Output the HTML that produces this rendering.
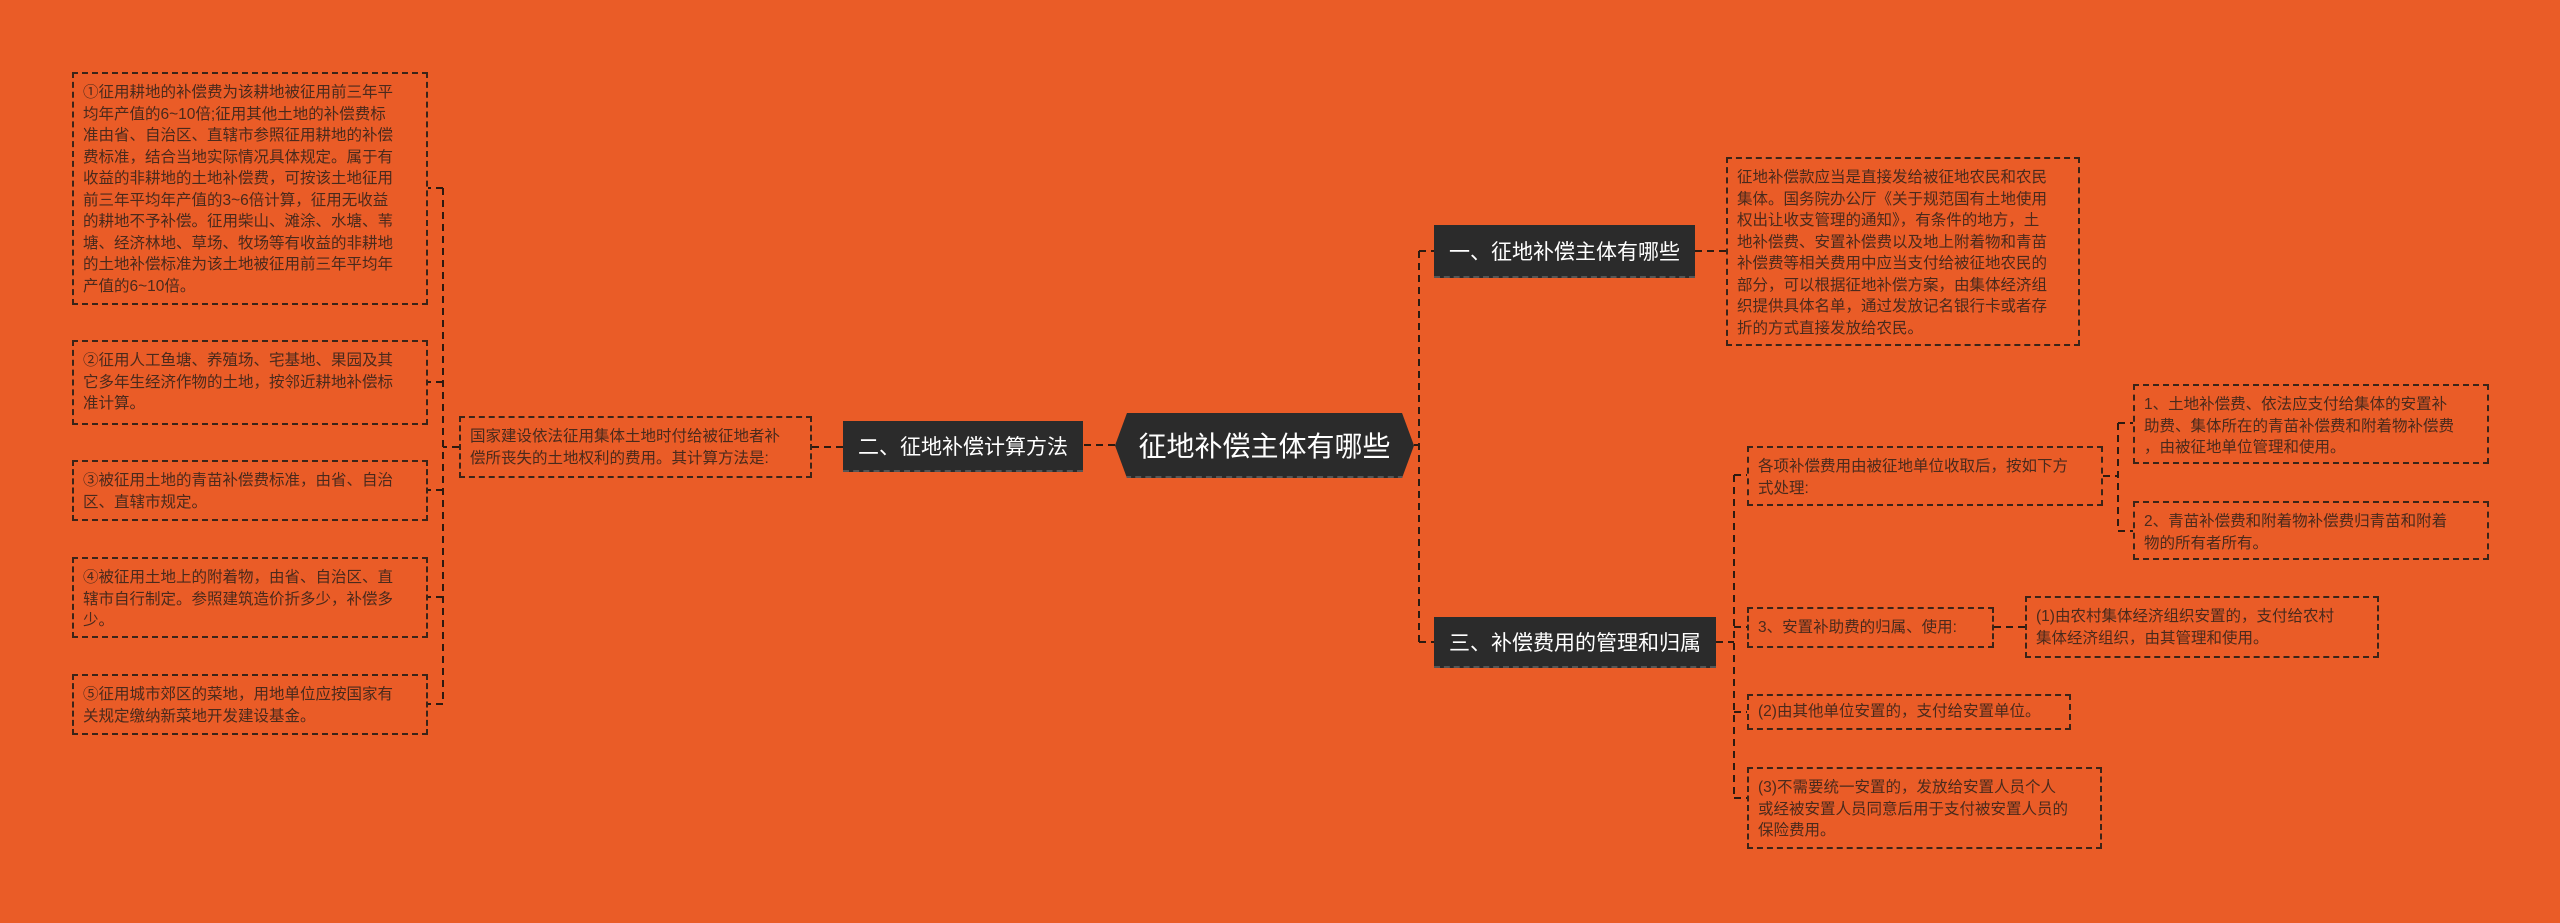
<!DOCTYPE html>
<html><head><meta charset="utf-8"><style>
body{margin:0;width:2560px;height:923px;background:#EA5C27;overflow:hidden;position:relative;font-family:"Liberation Sans","Noto Sans CJK SC",sans-serif}
.b{position:absolute;box-sizing:border-box;border:2px dashed #3b2418;color:#4a2a1c;font-size:15.5px;line-height:21.5px;padding:8px 9px;white-space:nowrap;overflow:hidden}
.n{position:absolute;box-sizing:border-box;background:#2b2b2b;color:#fff;font-size:21px;display:flex;align-items:center;justify-content:center;border-bottom:2px dashed #555;white-space:nowrap}
svg{position:absolute;left:0;top:0}
</style></head><body>
<svg width="2560" height="923"><g stroke="#2d1a10" stroke-width="2" stroke-dasharray="7,5" fill="none">
<path d="M1414 445H1419M1419 251V642M1419 251H1434M1419 642H1434"/>
<path d="M1695 251H1726"/>
<path d="M1716 642H1734M1734 475V798M1734 475H1747M1734 627H1747M1734 712H1747M1734 798H1747"/>
<path d="M2103 476H2118M2118 423V531M2118 423H2133M2118 531H2133"/>
<path d="M1994 627H2025"/>
<path d="M1115 445H1083M843 447H812M459 447H443M443 188V704M443 188H428M443 382H428M443 490H428M443 597H428M443 704H428"/>
</g></svg>
<div class="n" style="left:1115px;top:413px;width:299px;height:65px;font-size:28px;clip-path:polygon(4% 0,96% 0,100% 50%,96% 100%,4% 100%,0 50%)">征地补偿主体有哪些</div>
<div class="n" style="left:1434px;top:225px;width:261px;height:53px">一、征地补偿主体有哪些</div>
<div class="n" style="left:1434px;top:617px;width:282px;height:51px">三、补偿费用的管理和归属</div>
<div class="n" style="left:843px;top:421px;width:240px;height:51px">二、征地补偿计算方法</div>
<div class="b" style="left:459px;top:416px;width:353px;height:62px">国家建设依法征用集体土地时付给被征地者补<br>偿所丧失的土地权利的费用。其计算方法是:</div>
<div class="b" style="left:72px;top:72px;width:356px;height:233px">①征用耕地的补偿费为该耕地被征用前三年平<br>均年产值的6~10倍;征用其他土地的补偿费标<br>准由省、自治区、直辖市参照征用耕地的补偿<br>费标准，结合当地实际情况具体规定。属于有<br>收益的非耕地的土地补偿费，可按该土地征用<br>前三年平均年产值的3~6倍计算，征用无收益<br>的耕地不予补偿。征用柴山、滩涂、水塘、苇<br>塘、经济林地、草场、牧场等有收益的非耕地<br>的土地补偿标准为该土地被征用前三年平均年<br>产值的6~10倍。</div>
<div class="b" style="left:72px;top:340px;width:356px;height:85px">②征用人工鱼塘、养殖场、宅基地、果园及其<br>它多年生经济作物的土地，按邻近耕地补偿标<br>准计算。</div>
<div class="b" style="left:72px;top:460px;width:356px;height:61px">③被征用土地的青苗补偿费标准，由省、自治<br>区、直辖市规定。</div>
<div class="b" style="left:72px;top:557px;width:356px;height:81px">④被征用土地上的附着物，由省、自治区、直<br>辖市自行制定。参照建筑造价折多少，补偿多<br>少。</div>
<div class="b" style="left:72px;top:674px;width:356px;height:61px">⑤征用城市郊区的菜地，用地单位应按国家有<br>关规定缴纳新菜地开发建设基金。</div>
<div class="b" style="left:1726px;top:157px;width:354px;height:189px">征地补偿款应当是直接发给被征地农民和农民<br>集体。国务院办公厅《关于规范国有土地使用<br>权出让收支管理的通知》，有条件的地方，土<br>地补偿费、安置补偿费以及地上附着物和青苗<br>补偿费等相关费用中应当支付给被征地农民的<br>部分，可以根据征地补偿方案，由集体经济组<br>织提供具体名单，通过发放记名银行卡或者存<br>折的方式直接发放给农民。</div>
<div class="b" style="left:1747px;top:446px;width:356px;height:60px">各项补偿费用由被征地单位收取后，按如下方<br>式处理:</div>
<div class="b" style="left:2133px;top:384px;width:356px;height:80px">1、土地补偿费、依法应支付给集体的安置补<br>助费、集体所在的青苗补偿费和附着物补偿费<br>，由被征地单位管理和使用。</div>
<div class="b" style="left:2133px;top:501px;width:356px;height:59px">2、青苗补偿费和附着物补偿费归青苗和附着<br>物的所有者所有。</div>
<div class="b" style="left:1747px;top:607px;width:247px;height:41px">3、安置补助费的归属、使用:</div>
<div class="b" style="left:2025px;top:596px;width:354px;height:62px">(1)由农村集体经济组织安置的，支付给农村<br>集体经济组织，由其管理和使用。</div>
<div class="b" style="left:1747px;top:694px;width:324px;height:36px;padding-top:5px">(2)由其他单位安置的，支付给安置单位。</div>
<div class="b" style="left:1747px;top:767px;width:355px;height:82px">(3)不需要统一安置的，发放给安置人员个人<br>或经被安置人员同意后用于支付被安置人员的<br>保险费用。</div>
</body></html>
